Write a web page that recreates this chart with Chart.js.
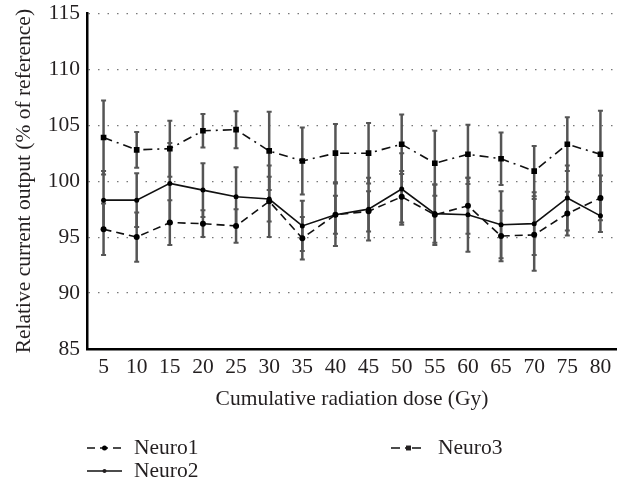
<!DOCTYPE html>
<html>
<head>
<meta charset="utf-8">
<script src="https://cdn.jsdelivr.net/npm/chart.js@4"></script>
<style>
  html, body { margin: 0; padding: 0; background: #fff; }
  #wrap { width: 617px; height: 479px; }
</style>
</head>
<body>
<div id="wrap"><canvas id="myChart"></canvas></div>
<script>
const doses = ['5', '10', '15', '20', '25', '30', '35', '40', '45', '50', '55', '60', '65', '70', '75', '80'];
const neuro1 = [95.7, 95.0, 96.3, 96.2, 96.0, 98.2, 94.9, 97.0, 97.3, 98.6, 97.0, 97.8, 95.1, 95.2, 97.1, 98.5];
const neuro2 = [98.3, 98.3, 99.8, 99.2, 98.6, 98.4, 96.0, 97.0, 97.5, 99.3, 97.1, 97.0, 96.1, 96.2, 98.5, 96.9];
const neuro3 = [103.9, 102.8, 102.9, 104.5, 104.6, 102.7, 101.8, 102.5, 102.5, 103.3, 101.6, 102.4, 102.0, 100.9, 103.3, 102.4];
// half-width of the error bars (+/-)
const neuro1Err = [2.3, 2.2, 2.0, 1.2, 1.5, 3.2, 1.9, 1.7, 1.8, 2.3, 2.7, 2.5, 2.25, 3.2, 1.95, 2.0];
const neuro2Err = [2.6, 2.4, 3.6, 2.4, 2.65, 2.0, 2.25, 2.8, 2.8, 3.2, 2.6, 3.3, 3.0, 2.8, 2.9, 1.45];
const neuro3Err = [3.3, 1.6, 2.5, 1.5, 1.65, 3.5, 3.0, 2.6, 2.7, 2.65, 2.9, 2.65, 2.35, 2.25, 2.4, 3.9];
const yTicks = [85, 90, 95, 100, 105, 110, 115];

const errors = [neuro1Err, neuro2Err, neuro3Err];
const textColor = '#231f20';
const serif = '"Liberation Serif", "DejaVu Serif", serif';

Chart.defaults.font.family = serif;
Chart.defaults.font.size = 21.5;
Chart.defaults.color = textColor;

// error bars under the lines
const errorBars = {
  id: 'errorBars',
  beforeDatasetsDraw(chart) {
    const { ctx, scales: { x, y } } = chart;
    ctx.save();
    ctx.strokeStyle = '#555';
    errors.forEach((errs, di) => {
      chart.data.datasets[di].data.forEach((v, i) => {
        const px = x.getPixelForValue(i);
        const top = y.getPixelForValue(v + errs[i]);
        const bot = y.getPixelForValue(v - errs[i]);
        ctx.lineWidth = 2.5;
        ctx.beginPath();
        ctx.moveTo(px, top);
        ctx.lineTo(px, bot);
        ctx.stroke();
        ctx.lineWidth = 2;
        ctx.beginPath();
        ctx.moveTo(px - 2.5, top); ctx.lineTo(px + 2.5, top);
        ctx.moveTo(px - 2.5, bot); ctx.lineTo(px + 2.5, bot);
        ctx.stroke();
      });
    });
    ctx.restore();
  }
};

// legend in two columns: Neuro1 | Neuro3 / Neuro2
const legendSpots = [
  { di: 0, x: 87, y: 448 },
  { di: 2, x: 391, y: 448 },
  { di: 1, x: 87, y: 471 }
];
const sideLegend = {
  id: 'sideLegend',
  afterDraw(chart) {
    const { ctx } = chart;
    ctx.save();
    legendSpots.forEach((s) => {
      const ds = chart.data.datasets[s.di];
      ctx.strokeStyle = '#111';
      ctx.lineWidth = 1.6;
      ctx.setLineDash(ds.borderDash || []);
      ctx.beginPath();
      ctx.moveTo(s.x, s.y);
      ctx.lineTo(s.x + 35, s.y);
      ctx.stroke();
      ctx.setLineDash([]);
      Chart.helpers.drawPoint(ctx, {
        pointStyle: ds.pointStyle, radius: ds.pointRadius - 0.5, borderWidth: 0
      }, s.x + 17.5, s.y);
      ctx.fillStyle = textColor;
      ctx.font = '21.5px ' + serif;
      ctx.textBaseline = 'middle';
      ctx.fillText(ds.label, s.x + 47, s.y);
    });
    ctx.restore();
  }
};

const ctx = document.getElementById('myChart');
new Chart(ctx, {
  type: 'line',
  data: {
    labels: doses,
    datasets: [
      {
        label: 'Neuro1',
        data: neuro1,
        borderColor: '#111',
        backgroundColor: '#000',
        borderWidth: 1.6,
        borderDash: [8, 5],
        pointStyle: 'circle',
        pointRadius: 3,
        pointBorderWidth: 0
      },
      {
        label: 'Neuro2',
        data: neuro2,
        borderColor: '#111',
        backgroundColor: '#000',
        borderWidth: 1.6,
        pointStyle: 'circle',
        pointRadius: 2.5,
        pointBorderWidth: 0
      },
      {
        label: 'Neuro3',
        data: neuro3,
        borderColor: '#111',
        backgroundColor: '#000',
        borderWidth: 1.6,
        borderDash: [9, 5, 2, 5],
        pointStyle: 'rect',
        pointRadius: 4,
        pointBorderWidth: 0
      }
    ]
  },
  options: {
    responsive: true,
    maintainAspectRatio: false,
    animation: false,
    layout: { autoPadding: false, padding: { top: 13.3, bottom: 60, left: 0, right: 0 } },
    plugins: {
      legend: { display: false },
      tooltip: { enabled: false }
    },
    scales: {
      x: {
        offset: true,
        grid: { display: false, drawTicks: false },
        border: { display: true, color: '#000', width: 2.5 },
        ticks: { padding: 5, maxRotation: 0, autoSkip: false },
        title: {
          display: true,
          text: 'Cumulative radiation dose (Gy)',
          padding: { top: 0, bottom: 7 }
        },
        afterFit(scale) {
          scale.height = 70;
          scale.paddingLeft = 0;
          scale.paddingRight = 0;
        }
      },
      y: {
        min: yTicks[0],
        max: yTicks[yTicks.length - 1],
        afterBuildTicks(scale) { scale.ticks = yTicks.map((v) => ({ value: v })); },
        grid: { color: '#777', lineWidth: 1.2, drawTicks: false },
        border: { display: true, color: '#000', width: 2.5, dash: [1.5, 8] },
        ticks: { padding: 7 },
        title: {
          display: true,
          text: 'Relative current output (% of reference)',
          padding: { top: 11, bottom: 0 }
        },
        afterFit(scale) {
          scale.width = 87;
          scale.paddingTop = 0;
          scale.paddingBottom = 0;
        }
      }
    }
  },
  plugins: [errorBars, sideLegend]
});
</script>
</body>
</html>
